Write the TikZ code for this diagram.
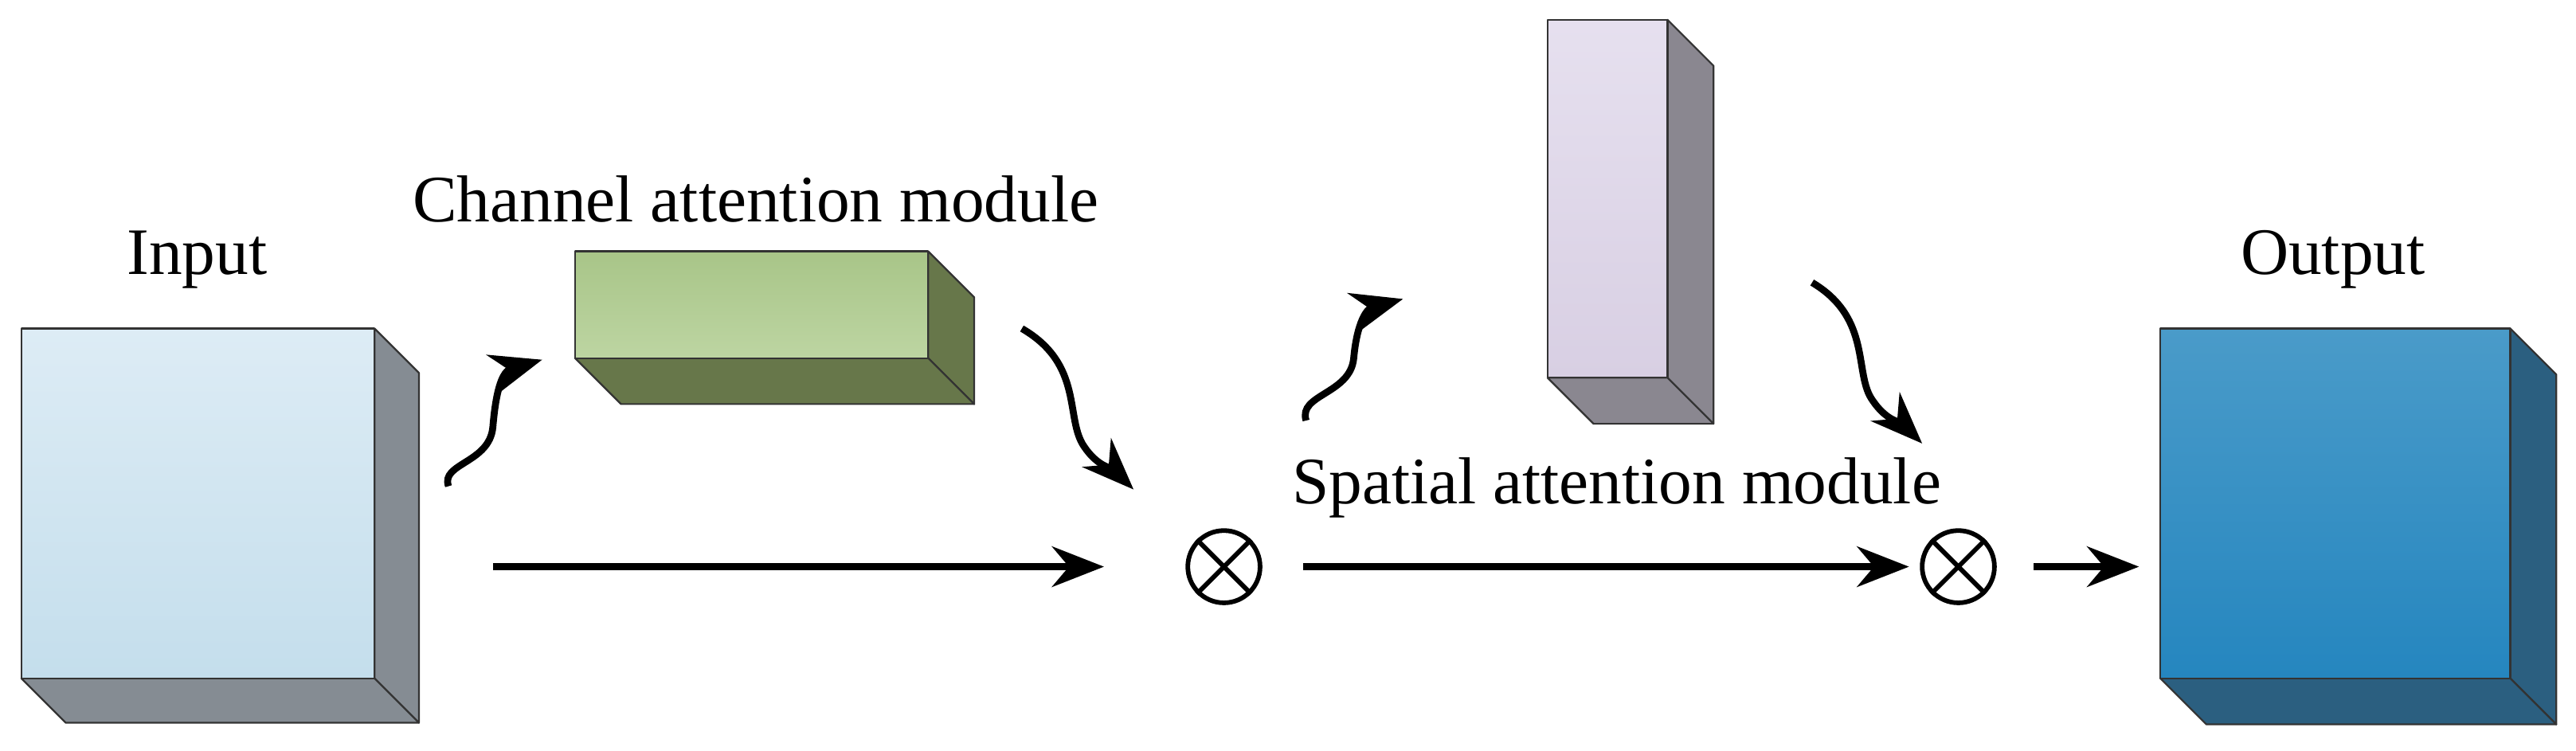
\documentclass[tikz,border=0pt]{standalone}
\usepackage{fontspec}
\setmainfont{Liberation Serif}
\usetikzlibrary{arrows.meta}
\definecolor{inT}{HTML}{DDECF5}\definecolor{inB}{HTML}{C4DEEC}\definecolor{inS}{HTML}{858C93}
\definecolor{chT}{HTML}{A8C588}\definecolor{chB}{HTML}{BDD5A2}\definecolor{chS}{HTML}{67774A}
\definecolor{spT}{HTML}{E6E0EF}\definecolor{spB}{HTML}{D8CFE3}\definecolor{spS}{HTML}{8A8790}
\definecolor{ouT}{HTML}{4A9BC9}\definecolor{ouB}{HTML}{2586BF}\definecolor{ouS}{HTML}{2B5F80}
\begin{document}
\begin{tikzpicture}[x=0.02cm,y=-0.02cm,
  edge/.style={draw=black!80,line width=0.6pt,line join=round},
  flow/.style={line width=2.4pt,-{Stealth[length=18pt,width=14pt]}},
  lbl/.style={font=\fontsize{23}{26}\selectfont,inner sep=0pt},
  op/.style={circle,draw,line width=1.6pt,minimum size=0.88cm,inner sep=0pt}]
\useasboundingbox (0,0) rectangle (1568,457);
\newcommand{\mybox}[8]{%
  \fill[#6,edge] (#3,#2) -- (#3+#5,#2+#5) -- (#3+#5,#4+#5) -- (#3,#4) -- cycle;
  \fill[#6,edge] (#1,#4) -- (#3,#4) -- (#3+#5,#4+#5) -- (#1+#5,#4+#5) -- cycle;
  \shade[top color=#7,bottom color=#8,edge] (#1,#2) rectangle (#3,#4);}
\mybox{13}{200}{228}{413}{27}{inS}{inT}{inB}
\mybox{350}{153}{565}{218}{28}{chS}{chT}{chB}
\mybox{942}{12}{1015}{230}{28}{spS}{spT}{spB}
\mybox{1315}{200}{1528}{413}{28}{ouS}{ouT}{ouB}
\node[lbl] (tin) at (120,158) {Input};
\node[lbl] (tch) at (460,121) {Channel attention module};
\node[lbl] (tsp) at (984,297) {Spatial attention module};
\node[lbl] (tout) at (1420,158) {Output};
\node[op] (m1) at (745,345) {};
\node[op] (m2) at (1192,345) {};
\foreach \n in {m1,m2}{\draw[line width=1.6pt] (\n.north west)--(\n.south east) (\n.north east)--(\n.south west);}
\coordinate (a0) at (300,345);\coordinate (a1) at (672,345);
\draw[flow] (a0) -- (a1);
\coordinate (b0) at (793,345);\coordinate (b1) at (1162,345);
\draw[flow] (b0) -- (b1);
\coordinate (c0) at (1238,345);\coordinate (c1) at (1302,345);
\draw[flow] (c0) -- (c1);
\coordinate (w1s) at (273,296);\coordinate (w1e) at (330,219);
\draw[flow] (w1s) .. controls (268,282) and (298,282) .. (300,260) .. controls (302,236) and (306,226) .. (w1e);
\coordinate (w2s) at (622,200);\coordinate (w2e) at (690,298);
\draw[flow] (w2s) .. controls (660,222) and (648,255) .. (660,272) .. controls (668,284) and (678,286) .. (w2e);
\coordinate (w3s) at (795,256);\coordinate (w3e) at (854,182);
\draw[flow] (w3s) .. controls (790,240) and (822,240) .. (824,218) .. controls (826,196) and (832,188) .. (w3e);
\coordinate (w4s) at (1103,172);\coordinate (w4e) at (1170,270);
\draw[flow] (w4s) .. controls (1140,194) and (1128,228) .. (1140,244) .. controls (1148,256) and (1158,258) .. (w4e);
\end{tikzpicture}
\end{document}
